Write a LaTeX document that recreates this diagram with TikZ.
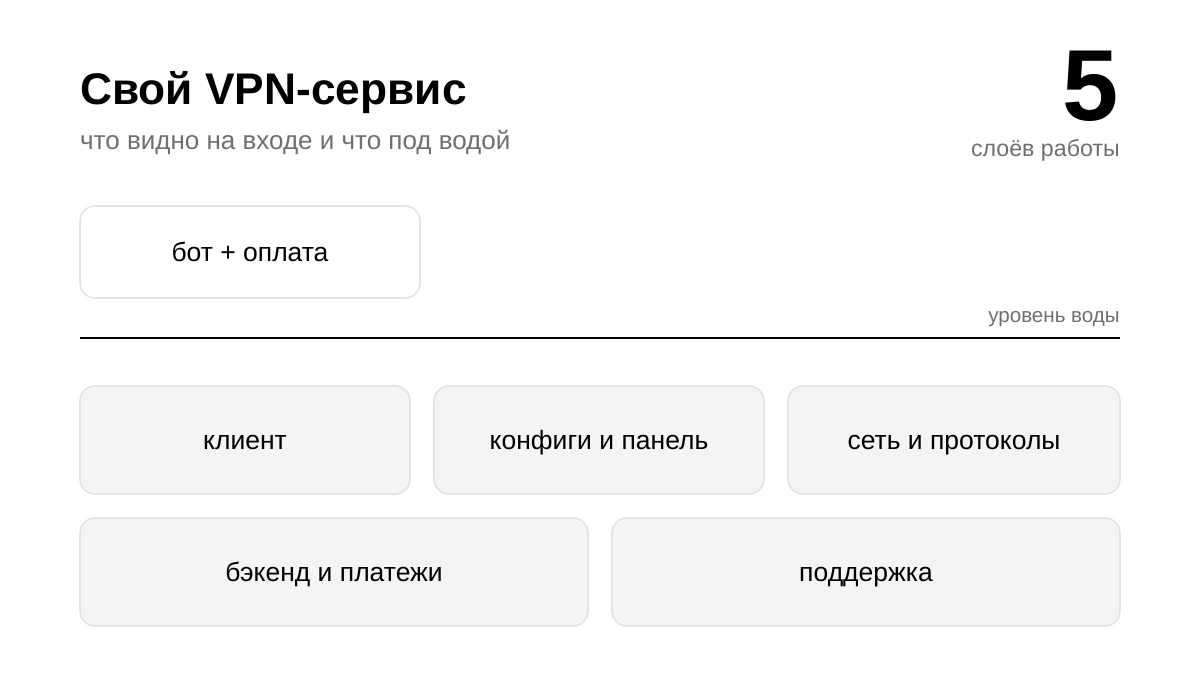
\documentclass[tikz,border=0pt]{standalone}
\usepackage{fontspec}
\setmainfont{Liberation Sans}
\definecolor{txtgray}{HTML}{6E6E73}
\definecolor{boxline}{HTML}{E3E3E5}
\definecolor{boxfill}{HTML}{F4F4F6}
\begin{document}
\begin{tikzpicture}[x=1pt,y=-1pt,
  card/.style={draw=boxline, line width=1.6pt, rounded corners=15pt},
  surface/.style={card, fill=white},
  under/.style={card, fill=boxfill},
  lbl/.style={font=\fontsize{26.5}{30}\selectfont, text=black, anchor=base, inner sep=0pt},
  muted/.style={text=txtgray, inner sep=0pt}
]
\useasboundingbox[fill=white] (0,0) rectangle (1200,675);
% header
\node[anchor=base west, inner sep=0pt, font=\fontsize{44.3}{50}\bfseries] (title) at (80,104) {Свой VPN-сервис};
\node[anchor=base west, muted, font=\fontsize{26}{30}\selectfont] (subtitle) at (80,149) {что видно на входе и что под водой};
\node[anchor=base east, inner sep=0pt, font=\fontsize{101}{110}\bfseries] (num) at (1119,120) {5};
\node[anchor=base east, muted, font=\fontsize{23.2}{27}\selectfont] (numlbl) at (1120,156) {слоёв работы};
% above water
\draw[surface] (80,206) rectangle (420,298);
\node[lbl] (bot) at (250,261) {бот + оплата};
\node[anchor=base east, muted, font=\fontsize{20.6}{24}\selectfont] (water) at (1120,322) {уровень воды};
\coordinate (wl) at (80,338);
\coordinate (wr) at (1120,338);
\draw[line width=2pt, black] (wl) -- (wr);
% under water row 1
\draw[under] (80,386) rectangle (410,494);
\node[lbl] (client) at (245,449) {клиент};
\draw[under] (434,386) rectangle (764,494);
\node[lbl] (configs) at (599,449) {конфиги и панель};
\draw[under] (788,386) rectangle (1120,494);
\node[lbl] (net) at (954,449) {сеть и протоколы};
% row 2
\draw[under] (80,518) rectangle (588,626);
\node[lbl] (backend) at (334,581) {бэкенд и платежи};
\draw[under] (612,518) rectangle (1120,626);
\node[lbl] (support) at (866,581) {поддержка};
\end{tikzpicture}
\end{document}
